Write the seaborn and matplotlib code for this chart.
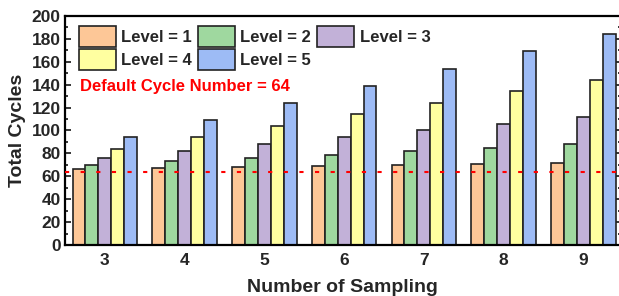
import pandas as pd
import matplotlib
matplotlib.use("Agg")
import matplotlib.pyplot as plt
from matplotlib.ticker import MultipleLocator
import seaborn as sns

# Data
sampling = ["3", "4", "5", "6", "7", "8", "9"]
level_1 = [66, 67, 68, 69, 70, 71, 72]
level_2 = [70, 73, 76, 79, 82, 85, 88]
level_3 = [76, 82, 88, 94, 100, 106, 112]
level_4 = [84, 94, 104, 114, 124, 134, 144]
level_5 = [94, 109, 124, 139, 154, 169, 184]
default_cycles = 64

levels = [level_1, level_2, level_3, level_4, level_5]
level_names = ["Level = %d" % (i + 1) for i in range(5)]
colors = ["#fdc797", "#9fd89f", "#c2b1d8", "#ffffa0", "#9dbbf5"]

rows = []
for name, vals in zip(level_names, levels):
    for s, v in zip(sampling, vals):
        rows.append({"Sampling": s, "Cycles": v, "Level": name})
df = pd.DataFrame(rows)

sns.set_style("ticks")
plt.rcParams["font.family"] = ["Liberation Sans", "DejaVu Sans"]
plt.rcParams["font.weight"] = "bold"

fig = plt.figure(figsize=(6.19, 2.96), dpi=100)
ax = fig.add_axes([0.105, 0.1723, 0.898, 0.774])

sns.barplot(data=df, x="Sampling", y="Cycles", hue="Level", order=sampling,
            hue_order=level_names, palette=colors, saturation=1,
            edgecolor="#222222", linewidth=1.2, width=0.81, errorbar=None, ax=ax)

ax.axhline(default_cycles, color="#ff0000", linestyle=(0, (2, 5.5)), lw=1.5, zorder=5)
ax.text(0.027, 0.69, "Default Cycle Number = %d" % default_cycles, transform=ax.transAxes,
        color="#ff0000", fontsize=12, fontweight="bold", va="center", ha="left")

ax.set_ylim(0, 200)
ax.set_xlim(-0.5, 6.47)
ax.yaxis.set_major_locator(MultipleLocator(20))
ax.yaxis.set_minor_locator(MultipleLocator(10))
ax.tick_params(axis="y", which="both", direction="in", right=True, width=1.3,
               labelsize=12.5, pad=3)
ax.tick_params(axis="y", which="major", length=4.5)
ax.tick_params(axis="y", which="minor", length=2.5)
ax.tick_params(axis="x", length=0, labelsize=12.5, pad=6)
for sp in ax.spines.values():
    sp.set_visible(True)
    sp.set_linewidth(1.6)
    sp.set_color("black")

ax.set_xlabel("Number of Sampling", fontsize=14, fontweight="bold", labelpad=8)
ax.set_ylabel("Total Cycles", fontsize=14, fontweight="bold", labelpad=4)

# legend filled row by row: L1 L2 L3 / L4 L5
handles, labels = ax.get_legend_handles_labels()
order = [0, 3, 1, 4, 2]
ax.legend([handles[i] for i in order], [labels[i] for i in order],
          loc="upper left", bbox_to_anchor=(0.025, 0.955), ncol=3,
          frameon=False, fontsize=12, handlelength=2.2, handleheight=1.55,
          handletextpad=0.35, columnspacing=0.35, labelspacing=0.12,
          borderpad=0, borderaxespad=0)

plt.savefig("out.png", dpi=100)
plt.close()
